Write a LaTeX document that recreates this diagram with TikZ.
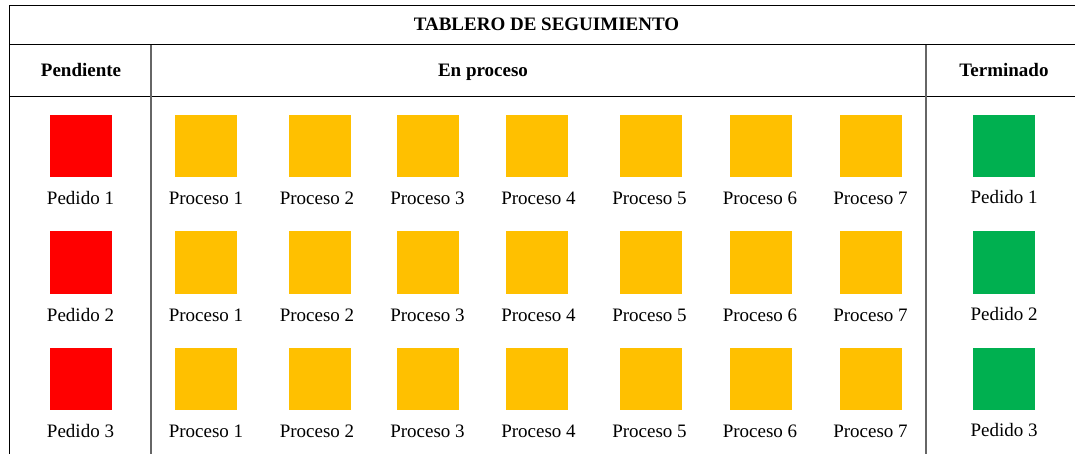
\documentclass[tikz,border=0pt]{standalone}
\usepackage{fontspec}
\setmainfont{Liberation Serif}
\definecolor{pendred}{HTML}{FF0000}
\definecolor{procorange}{HTML}{FFC000}
\definecolor{termgreen}{HTML}{00B050}

\begin{document}
\begin{tikzpicture}[x=1pt,y=-1pt]
\useasboundingbox (0,0) rectangle (1075,454);

% table frame
\draw[line width=1pt] (9.5,454) -- (9.5,5.5) -- (1075,5.5);
\draw[line width=1pt] (9.5,45) -- (1075,45);
\draw[line width=1pt] (9.5,96.5) -- (1075,96.5);
\draw[black!60,line width=1.5pt] (151,45) -- (151,454);
\draw[black!60,line width=1.5pt] (926,45) -- (926,454);

% headers
\begin{scope}[every node/.style={anchor=base,inner sep=0pt,font=\fontsize{19}{22}\selectfont\bfseries}]
\node (title) at (546.5,31) {TABLERO DE SEGUIMIENTO};
\node (hpend) at (81,76.5) {Pendiente};
\node (hproc) at (483,76.5) {En proceso};
\node (hterm) at (1004,76.5) {Terminado};
\end{scope}

% squares
\begin{scope}[every node/.style={rectangle,minimum size=62pt,inner sep=0pt}]
\node[fill=pendred] (pend1) at (80.5,146.5) {};
\node[fill=pendred] (pend2) at (80.5,262.5) {};
\node[fill=pendred] (pend3) at (80.5,378.5) {};

\node[fill=procorange] (proc11) at (206,146.5) {};
\node[fill=procorange] (proc12) at (319.5,146.5) {};
\node[fill=procorange] (proc13) at (428,146.5) {};
\node[fill=procorange] (proc14) at (537,146.5) {};
\node[fill=procorange] (proc15) at (651,146.5) {};
\node[fill=procorange] (proc16) at (761,146.5) {};
\node[fill=procorange] (proc17) at (870.5,146.5) {};

\node[fill=procorange] (proc21) at (206,262.5) {};
\node[fill=procorange] (proc22) at (319.5,262.5) {};
\node[fill=procorange] (proc23) at (428,262.5) {};
\node[fill=procorange] (proc24) at (537,262.5) {};
\node[fill=procorange] (proc25) at (651,262.5) {};
\node[fill=procorange] (proc26) at (761,262.5) {};
\node[fill=procorange] (proc27) at (870.5,262.5) {};

\node[fill=procorange] (proc31) at (206,378.5) {};
\node[fill=procorange] (proc32) at (319.5,378.5) {};
\node[fill=procorange] (proc33) at (428,378.5) {};
\node[fill=procorange] (proc34) at (537,378.5) {};
\node[fill=procorange] (proc35) at (651,378.5) {};
\node[fill=procorange] (proc36) at (761,378.5) {};
\node[fill=procorange] (proc37) at (870.5,378.5) {};

\node[fill=termgreen] (term1) at (1004,146.5) {};
\node[fill=termgreen] (term2) at (1004,262.5) {};
\node[fill=termgreen] (term3) at (1004,378.5) {};
\end{scope}

% labels
\begin{scope}[every node/.style={anchor=base,inner sep=0pt,font=\fontsize{19}{22}\selectfont}]
\node (lpend1) at (80.5,205) {Pedido 1};
\node (lpend2) at (80.5,321.5) {Pedido 2};
\node (lpend3) at (80.5,437.5) {Pedido 3};

\node (lproc11) at (206,205) {Proceso 1};
\node (lproc12) at (317,205) {Proceso 2};
\node (lproc13) at (427.5,205) {Proceso 3};
\node (lproc14) at (538.5,205) {Proceso 4};
\node (lproc15) at (649.5,205) {Proceso 5};
\node (lproc16) at (760,205) {Proceso 6};
\node (lproc17) at (870.5,205) {Proceso 7};

\node (lproc21) at (206,321.5) {Proceso 1};
\node (lproc22) at (317,321.5) {Proceso 2};
\node (lproc23) at (427.5,321.5) {Proceso 3};
\node (lproc24) at (538.5,321.5) {Proceso 4};
\node (lproc25) at (649.5,321.5) {Proceso 5};
\node (lproc26) at (760,321.5) {Proceso 6};
\node (lproc27) at (870.5,321.5) {Proceso 7};

\node (lproc31) at (206,437.5) {Proceso 1};
\node (lproc32) at (317,437.5) {Proceso 2};
\node (lproc33) at (427.5,437.5) {Proceso 3};
\node (lproc34) at (538.5,437.5) {Proceso 4};
\node (lproc35) at (649.5,437.5) {Proceso 5};
\node (lproc36) at (760,437.5) {Proceso 6};
\node (lproc37) at (870.5,437.5) {Proceso 7};

\node (lterm1) at (1004,204) {Pedido 1};
\node (lterm2) at (1004,320.5) {Pedido 2};
\node (lterm3) at (1004,436.5) {Pedido 3};
\end{scope}
\end{tikzpicture}
\end{document}
